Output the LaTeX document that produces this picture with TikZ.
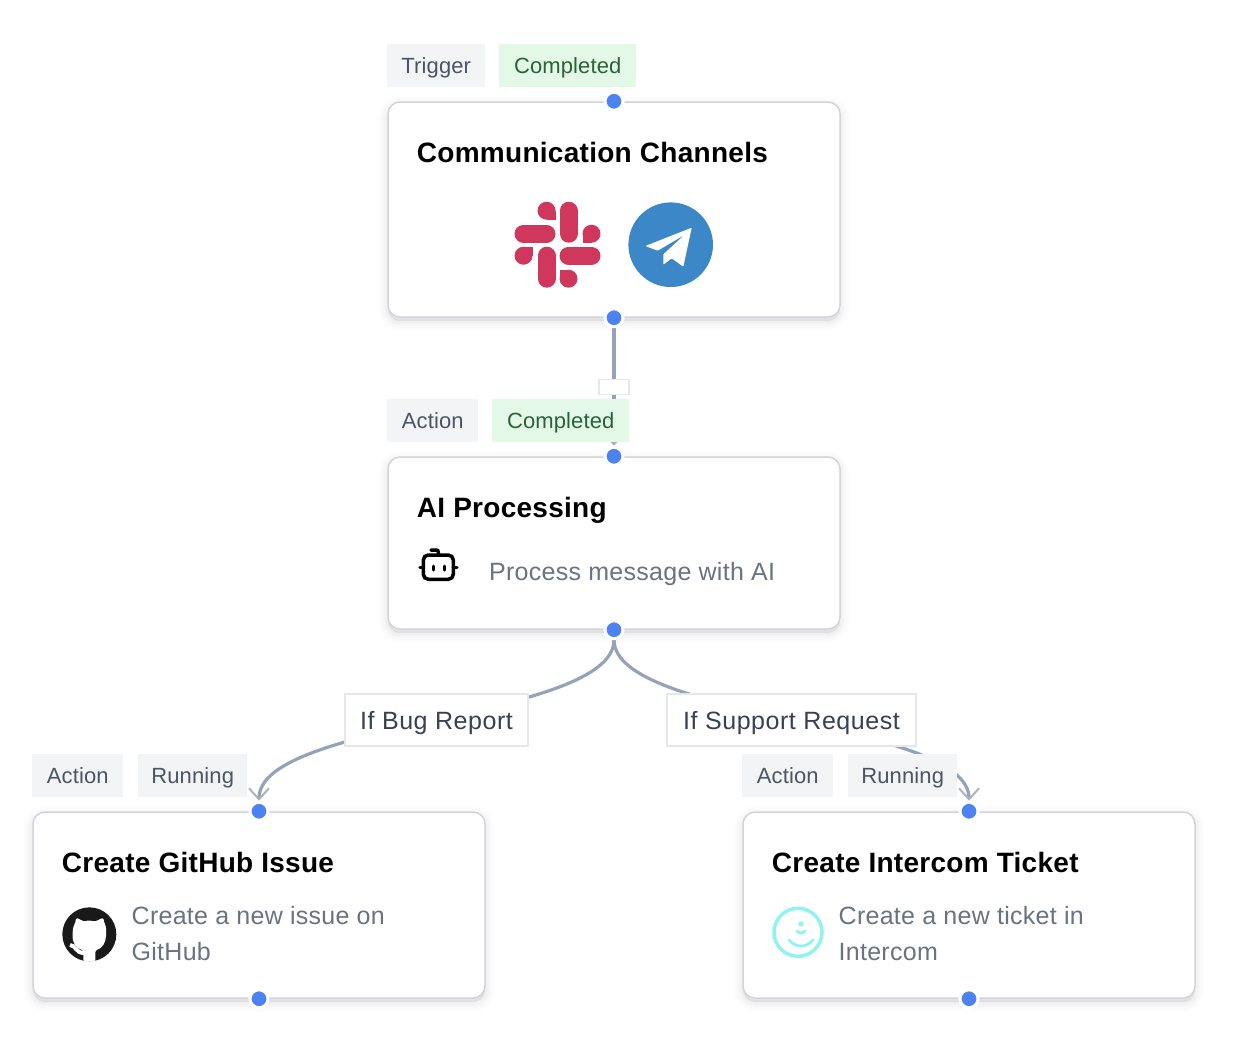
\documentclass[tikz,border=0pt]{standalone}
\usepackage{fontspec}
\setmainfont{Liberation Sans}
\usetikzlibrary{shapes, arrows.meta, shadows, calc, positioning, backgrounds}
\definecolor{cardline}{HTML}{D1D5DB}
\definecolor{tagbg}{HTML}{F3F4F6}
\definecolor{tagtext}{HTML}{4B5563}
\definecolor{donebg}{HTML}{E3F8E7}
\definecolor{donetext}{HTML}{2A6238}
\definecolor{subtext}{HTML}{6B7280}
\definecolor{labeltext}{HTML}{374151}
\definecolor{labelline}{HTML}{E5E7EB}
\definecolor{dotblue}{HTML}{4C82F1}
\definecolor{edgeblue}{HTML}{94A3B8}
\definecolor{tipgray}{HTML}{B1B1B7}
\definecolor{slackred}{HTML}{CF375C}
\definecolor{teleblue}{HTML}{3B87C8}
\definecolor{intercomcyan}{HTML}{90F3EE}
\tikzset{
  softshadow/.style={general shadow={draw=black, fill=black, draw opacity=.009, fill opacity=.009, line width=#1, shadow yshift=-4pt, rounded corners=12pt}},
  cardbox/.style={draw=cardline, fill=white, line width=1.5pt, rounded corners=12pt, minimum width=452pt, inner sep=0pt, softshadow=20pt, softshadow=16pt, softshadow=13pt, softshadow=10pt, softshadow=8pt, softshadow=6pt, softshadow=4pt, softshadow=2pt},
  tagbox/.style={fill=tagbg, text=tagtext, font=\fontsize{22}{26}\selectfont\addfontfeature{LetterSpace=0.6}, minimum height=43pt, inner xsep=4pt, inner ysep=0pt, outer sep=0pt, text height=19pt, text depth=4pt},
  donebox/.style={tagbox, fill=donebg, text=donetext, minimum width=137pt},
  condbox/.style={draw=labelline, line width=1.5pt, fill=white, text=labeltext, font=\fontsize{25}{28}\selectfont\addfontfeature{LetterSpace=2.2}, minimum height=52pt, inner xsep=4pt, inner ysep=0pt, text height=22pt, text depth=4pt},
  titletext/.style={anchor=base west, font=\fontsize{28}{32}\bfseries\selectfont\addfontfeature{LetterSpace=1}, text=black, inner sep=0pt},
  subbox/.style={anchor=west, align=left, font=\fontsize{25}{36}\selectfont\addfontfeature{LetterSpace=1.1}, text=subtext, inner sep=0pt},
  portdot/.style={circle, fill=dotblue, draw=white, line width=3pt, minimum size=18pt, inner sep=0pt},
  flow/.style={draw=edgeblue, line width=3.2pt, shorten <=10pt, shorten >=10.5pt, -{Straight Barb[length=11pt, width=20pt, line width=2pt, color=tipgray]}}
}
\begin{document}
\begin{tikzpicture}[x=1pt, y=-1pt]
        \useasboundingbox (0,0) rectangle (1234,1042);

        \node [cardbox, minimum height=215pt] (C1) at (614,209.5) {};
        \node [cardbox, minimum height=172pt, below=138.5pt of C1] (C2) {};
        \node [cardbox, minimum height=186pt, below=181.5pt of C2, xshift=-355pt] (C3) {};
        \node [cardbox, minimum height=186pt, below=181.5pt of C2, xshift=355pt] (C4) {};

        \node [tagbox, minimum width=98pt, above right=14pt and 0pt of C1.north west] (A1) {Trigger};
        \node [donebox, right=14pt of A1] (S1) {Completed};
        \node [tagbox, minimum width=91pt, above right=14pt and 0pt of C2.north west] (A2) {Action};
        \node [donebox, right=14pt of A2] (S2) {Completed};
        \node [tagbox, minimum width=91pt, above right=14pt and 0pt of C3.north west] (A3) {Action};
        \node [tagbox, minimum width=109pt, right=15pt of A3] (S3) {Running};
        \node [tagbox, minimum width=91pt, above right=14pt and 0pt of C4.north west] (A4) {Action};
        \node [tagbox, minimum width=109pt, right=15pt of A4] (S4) {Running};

        \node [titletext, xshift=29.5pt, yshift=-61pt] (T1) at (C1.north west) {Communication Channels};
        \node [titletext, xshift=29.5pt, yshift=-61pt] (T2) at (C2.north west) {AI Processing};
        \node [titletext, xshift=29.5pt, yshift=-61pt] (T3) at (C3.north west) {Create GitHub Issue};
        \node [titletext, xshift=29.5pt, yshift=-61pt] (T4) at (C4.north west) {Create Intercom Ticket};

        \node [subbox] (D2) at (489,574) {Process message with AI};
        \node [subbox] (D3) at (131.5,934) {Create a new issue on\\GitHub};
        \node [subbox] (D4) at (838.5,934) {Create a new ticket in\\Intercom};

        \foreach \n in {1,2,3,4} {
            \node [portdot] (I\n) at (C\n.north) {};
            \node [portdot] (O\n) at (C\n.south) {};
        }

        \begin{pgfonlayer}{background}
            \draw [flow] (O1.center) -- node [condbox, minimum width=30pt, minimum height=15pt, text height=0pt, text depth=0pt, midway] (L1) {} (I2.center);
            \draw [flow] (O2.center) .. controls +(0,90) and +(0,-91) .. node [condbox, minimum width=183pt, pos=0.5] (L2) {If Bug Report} (I3.center);
            \draw [flow] (O2.center) .. controls +(0,90) and +(0,-91) .. node [condbox, minimum width=249pt, pos=0.5] (L3) {If Support Request} (I4.center);
        \end{pgfonlayer}

        % slack
        \foreach \a in {0,90,180,270} {
            \begin{scope}[shift={(557.5,244.7)}, rotate=\a]
                \draw [slackred, line width=18pt, line cap=round] (11,-34) -- (11,-11);
                \fill [slackred] (-11,-34) circle (9pt);
                \fill [slackred] (-11,-34) rectangle (-2,-25);
            \end{scope}
        }

        % telegram
        \fill [teleblue] (670.7,244.7) circle (42.3pt);
        \fill [white, rounded corners=0.8pt] (691.7,227.7) -- (645.3,246) -- (657.7,250.7) -- (684.3,235) -- (663.3,254.3) -- (663.3,264.7) -- (671.7,258.3) -- (683.3,266.7) -- cycle;

        % robot
        \draw [black, line width=3.5pt, rounded corners=5pt] (423.3,555) rectangle (453.3,579.3);
        \draw [black, line width=3.5pt, line cap=round] (420,567.3) -- (423.3,567.3) (453.3,567.3) -- (457,567.3);
        \draw [black, line width=3.5pt, line cap=round, rounded corners=2pt] (438.3,555) -- (438.3,550) -- (431,550);
        \draw [black, line width=3pt, line cap=round] (433.3,566) -- (433.3,570) (444,566) -- (444,570);

        % github
        \begin{scope}[shift={(50,895)}, x=1/3pt, y=-1/3pt]
            \fill [black!90] (118,118) circle (27pt);
            \fill [white, rounded corners=1.5pt] (100,200) -- (100,166) .. controls (78,160) and (66,140) .. (68,118) .. controls (68,100) and (72,90) .. (76,84) -- (78,68) -- (104,80) .. controls (112,76) and (124,76) .. (134,80) -- (160,68) -- (163,84) .. controls (167,92) and (170,104) .. (168,118) .. controls (168,140) and (158,160) .. (136,166) -- (136,200) -- cycle;
            \draw [white, line width=4pt] (60,150) .. controls (78,150) and (76,174) .. (102,174);
        \end{scope}

        % intercom
        \draw [intercomcyan, line width=3.5pt] (798,932.3) circle (24pt);
        \fill [intercomcyan] (801,924) circle (2.7pt);
        \draw [intercomcyan, line width=2.8pt, line cap=round] (797,931) .. controls (799,933.5) and (803,933.5) .. (805,931);
        \draw [intercomcyan, line width=2.8pt, line cap=round] (789,940) .. controls (796,948) and (806,948) .. (813,940);
\end{tikzpicture}
\end{document}
